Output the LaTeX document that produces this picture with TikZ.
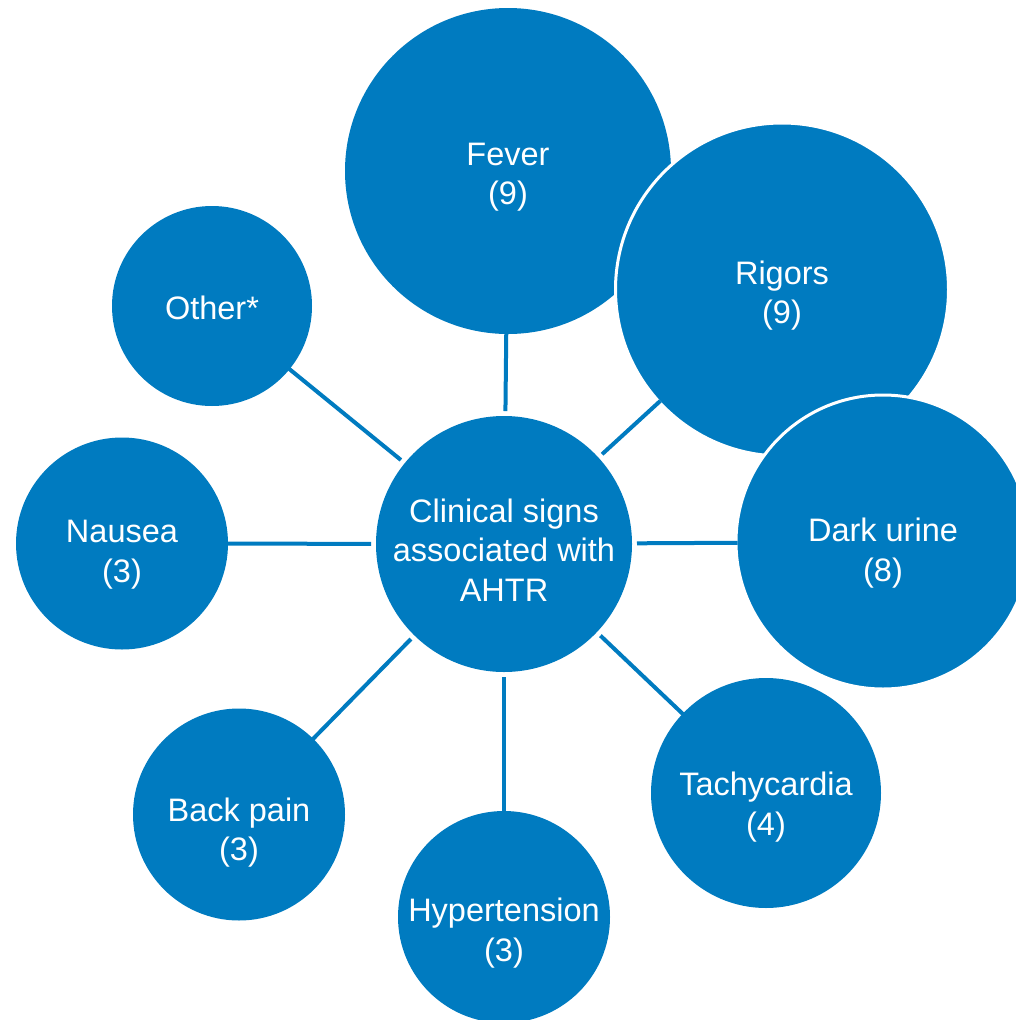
\documentclass[tikz,border=0pt]{standalone}
\usepackage{fontspec}
\setmainfont{Liberation Sans}
\usepackage{tikz}
\definecolor{ahtrblue}{RGB}{0,123,192}

\begin{document}
\begin{tikzpicture}[x=1pt,y=-1pt,
  bub/.style={circle,fill=ahtrblue,inner sep=0pt,outer sep=0pt,minimum size=#1pt},
  ring/.style={draw=white,line width=3pt},
  txt/.style={text=white,align=center,inner sep=0pt,font=\fontsize{32.5}{39.5}\selectfont},
  spoke/.style={ahtrblue,line width=4pt,shorten <=5pt,shorten >=-1.5pt}
  ]
\useasboundingbox (0,0) rectangle (1016,1020);
\clip (0,0) rectangle (1016,1020);
\fill[white] (0,0) rectangle (1016,1020);
% outer bubbles, overlapping ones last
\node[bub=326] (fev) at (508,171) {};
\node[bub=333,ring] (rig) at (782,289.5) {};
\node[bub=294,ring] (dark) at (883,542) {};
\node[bub=230] (tach) at (766,793) {};
\node[bub=212] (hyp) at (504,917) {};
\node[bub=212] (back) at (239,814.5) {};
\node[bub=212] (naus) at (122,543.5) {};
\node[bub=200] (oth) at (212,306) {};
% hub
\node[bub=256] (cs) at (504,544) {};
\foreach \n in {fev,rig,dark,tach,hyp,back,naus,oth}
  \draw[spoke] (cs) -- (\n);
% labels, set a little below the centres
\node[txt] (fev-t) at ([yshift=-6pt]fev.center) {Fever\\(9)};
\node[txt] (rig-t) at ([yshift=-6pt]rig.center) {Rigors\\(9)};
\node[txt] (dark-t) at ([yshift=-11pt]dark.center) {Dark urine\\(8)};
\node[txt] (tach-t) at ([yshift=-14pt]tach.center) {Tachycardia\\(4)};
\node[txt] (hyp-t) at ([yshift=-16pt]hyp.center) {Hypertension\\(3)};
\node[txt] (back-t) at ([yshift=-18pt]back.center) {Back pain\\(3)};
\node[txt] (naus-t) at ([yshift=-11pt]naus.center) {Nausea\\(3)};
\node[txt] (oth-t) at ([yshift=-2pt]oth.center) {Other*};
\node[txt] (cs-t) at ([yshift=-6pt]cs.center) {Clinical signs\\associated with\\AHTR};
\end{tikzpicture}
\end{document}
